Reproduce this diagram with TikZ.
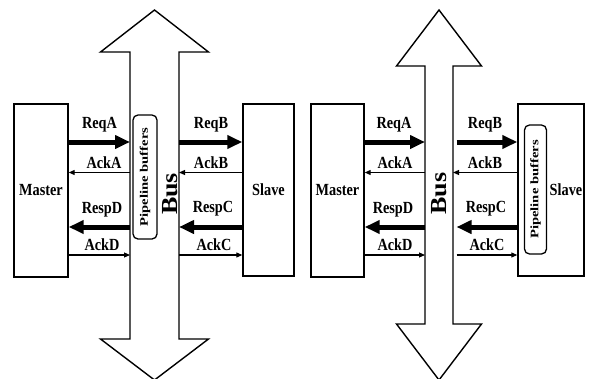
\documentclass[tikz,border=0pt]{standalone}
\usepackage{fontspec}
\usepackage{graphicx}
\usetikzlibrary{arrows.meta}
\newfontfamily\labfont{Liberation Serif}[FakeStretch=0.84]
\newfontfamily\busfont{Liberation Serif}[FakeStretch=1.13]
\newfontfamily\pipefont{Liberation Serif}[FakeStretch=1.27]
\tikzset{
  box/.style={draw, line width=1.4pt, inner sep=0pt, font=\labfont\bfseries\fontsize{17}{20}\selectfont},
  lab/.style={anchor=base, inner sep=0pt, font=\labfont\bfseries\fontsize{17}{20}\selectfont},
  busline/.style={draw, line width=1.4pt, line join=miter},
  pipe/.style={draw, line width=1.3pt, rounded corners=5pt, inner sep=0pt, rotate=90, font=\pipefont\bfseries\fontsize{11.5}{13}\selectfont},
  bustext/.style={rotate=90, inner sep=0pt, font=\busfont\bfseries\fontsize{23}{26}\selectfont},
  fat/.style={line width=5pt, -{Triangle[length=15pt,width=13pt]}},
  thin/.style={line width=1.1pt, -{Triangle[length=6pt,width=5pt]}}
}
\begin{document}
\begin{tikzpicture}[x=1pt,y=-1pt]
\useasboundingbox (0,0) rectangle (589,378);
% rows
\coordinate (rA) at (0,142);
\coordinate (rB) at (0,172.5);
\coordinate (rC) at (0,227);
\coordinate (rD) at (0,255);
% ---------------- left diagram ----------------
\draw[busline] (154.5,10) -- (208.5,52) -- (179,52) -- (179,339) -- (208.5,339) -- (154.5,380)
  -- (100.5,339) -- (130,339) -- (130,52) -- (100.5,52) -- cycle;
\coordinate (b1l) at (130,0);
\coordinate (b1r) at (179,0);
\node[box, minimum width=54pt, minimum height=173pt] (m1) at (41,190.5) {Master};
\node[box, minimum width=51pt, minimum height=172pt] (s1) at (268.5,190) {Slave};
\node[pipe, minimum width=124pt, minimum height=24pt] (p1) at (145,177) {Pipeline buffers};
\node[bustext] (bus1) at (170.5,194) {Bus};
\draw[fat]  (m1.east |- rA) -- (b1l |- rA);
\draw[thin] (b1l |- rB) -- (m1.east |- rB);
\draw[fat]  (b1l |- rC) -- (m1.east |- rC);
\draw[thin] (m1.east |- rD) -- (b1l |- rD);
\draw[fat]  (b1r |- rA) -- (s1.west |- rA);
\draw[thin] (s1.west |- rB) -- (b1r |- rB);
\draw[fat]  (s1.west |- rC) -- (b1r |- rC);
\draw[thin] (b1r |- rD) -- (s1.west |- rD);
\node[lab] (lReqA) at (99.5,128.5) {ReqA};
\node[lab] (lAckA) at (104,168) {AckA};
\node[lab] (lRespD) at (102,213) {RespD};
\node[lab] (lAckD) at (102,250) {AckD};
\node[lab] (lReqB) at (211,128.5) {ReqB};
\node[lab] (lAckB) at (211,168) {AckB};
\node[lab] (lRespC) at (213,212) {RespC};
\node[lab] (lAckC) at (214,250) {AckC};
% ---------------- right diagram ----------------
\draw[busline] (439,10) -- (481.5,66) -- (453,66) -- (453,324) -- (481.5,324) -- (439,380)
  -- (396.5,324) -- (425,324) -- (425,66) -- (396.5,66) -- cycle;
\coordinate (b2l) at (425,0);
\coordinate (b2r) at (453,0);
\coordinate (b2rs) at (456.5,0);
\node[box, minimum width=53pt, minimum height=173pt] (m2) at (337.5,190.5) {Master};
\node[box, minimum width=66pt, minimum height=172pt] (s2) at (551,190) {};
\node[lab, anchor=center] (t2) at (566,190) {Slave};
\node[pipe, minimum width=129pt, minimum height=22pt] (p2) at (535.5,189.5) {Pipeline buffers};
\node[bustext] (bus2) at (439.5,193.5) {Bus};
\draw[fat]  (m2.east |- rA) -- (b2l |- rA);
\draw[thin] (b2l |- rB) -- (m2.east |- rB);
\draw[fat]  (b2l |- rC) -- (m2.east |- rC);
\draw[thin] (m2.east |- rD) -- (b2l |- rD);
\draw[fat]  (b2rs |- rA) -- (s2.west |- rA);
\draw[thin] (s2.west |- rB) -- (b2r |- rB);
\draw[fat]  (s2.west |- rC) -- (b2rs |- rC);
\draw[thin] (b2rs |- rD) -- (s2.west |- rD);
\node[lab] (rReqA) at (394,128.5) {ReqA};
\node[lab] (rAckA) at (395,168) {AckA};
\node[lab] (rRespD) at (393,213) {RespD};
\node[lab] (rAckD) at (395,250) {AckD};
\node[lab] (rReqB) at (485,128.5) {ReqB};
\node[lab] (rAckB) at (485,168) {AckB};
\node[lab] (rRespC) at (486,212) {RespC};
\node[lab] (rAckC) at (487,250) {AckC};
\end{tikzpicture}
\end{document}
